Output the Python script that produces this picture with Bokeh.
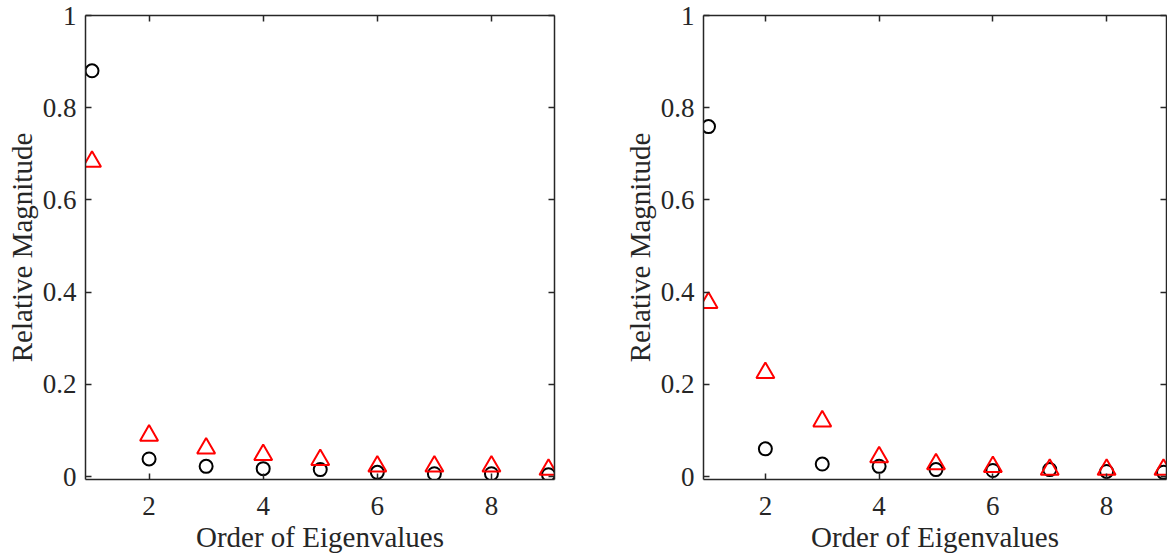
from bokeh.plotting import figure
from bokeh.layouts import row
from bokeh.models import ColumnDataSource, LinearAxis, FixedTicker, Range1d
from bokeh.embed import file_html
from bokeh.resources import INLINE

# ---- data ----
order = [1, 2, 3, 4, 5, 6, 7, 8, 9]
left_circles = [0.880, 0.038, 0.022, 0.017, 0.015, 0.009, 0.006, 0.006, 0.004]
left_triangles = [0.683, 0.089, 0.061, 0.047, 0.036, 0.022, 0.022, 0.022, 0.015]
right_circles = [0.759, 0.060, 0.027, 0.022, 0.015, 0.013, 0.015, 0.011, 0.009]
right_triangles = [0.377, 0.225, 0.120, 0.042, 0.027, 0.021, 0.015, 0.015, 0.015]
x_ticks = [2, 4, 6, 8]
y_ticks = [0, 0.2, 0.4, 0.6, 0.8, 1]
y_tick_labels = ["0", "0.2", "0.4", "0.6", "0.8", "1"]
x_label = "Order of Eigenvalues"
y_label = "Relative Magnitude"

FONT = "Liberation Serif"
AX = "#262626"
TICK_FS = "27px"
LABEL_FS = "29px"


def style_axis(ax, ticks, show_labels, overrides=None):
    ax.ticker = FixedTicker(ticks=ticks)
    ax.major_tick_in = 6
    ax.major_tick_out = 0
    ax.major_tick_line_color = AX
    ax.major_tick_line_width = 1.5
    ax.minor_tick_line_color = None
    ax.axis_line_color = AX
    ax.axis_line_width = 1.5
    ax.major_label_text_font = FONT
    if show_labels:
        ax.major_label_text_color = AX
        ax.major_label_text_font_size = TICK_FS
        if overrides:
            ax.major_label_overrides = overrides
        ax.axis_label_text_font = FONT
        ax.axis_label_text_font_size = LABEL_FS
        ax.axis_label_text_font_style = "normal"
        ax.axis_label_text_color = AX
    else:
        ax.major_label_text_color = None
        ax.major_label_text_font_size = "0px"
        ax.major_label_standoff = 0


def make_panel(circles, triangles, width, bl, br, xr):
    src = ColumnDataSource(dict(x=order, c=circles, t=triangles))
    p = figure(width=width, height=556, output_backend="svg", toolbar_location=None,
               x_range=Range1d(*xr), y_range=Range1d(-0.0065, 1.0),
               min_border_left=bl, min_border_right=br,
               min_border_top=15, min_border_bottom=77)
    p.grid.visible = False
    p.outline_line_color = None
    p.background_fill_color = "white"
    p.border_fill_color = "white"

    p.scatter("x", "c", source=src, marker="circle", size=13, fill_color=None,
              line_color="black", line_width=2)
    p.scatter("x", "t", source=src, marker="triangle", size=18, fill_color=None,
              line_color="#ff0000", line_width=2)

    style_axis(p.xaxis[0], x_ticks, True)
    p.xaxis[0].axis_label = x_label
    p.xaxis[0].axis_label_standoff = 3
    p.xaxis[0].major_label_standoff = 17
    ov = {t: lab for t, lab in zip(y_ticks, y_tick_labels)}
    style_axis(p.yaxis[0], y_ticks, True, ov)
    p.yaxis[0].axis_label = y_label
    p.yaxis[0].axis_label_standoff = 2
    p.yaxis[0].major_label_standoff = 9

    top = LinearAxis()
    style_axis(top, x_ticks, False)
    p.add_layout(top, "above")
    right = LinearAxis()
    style_axis(right, y_ticks, False)
    p.add_layout(right, "right")
    return p


p1 = make_panel(left_circles, left_triangles, 618, 85, 64, (0.886, 9.105))
p2 = make_panel(right_circles, right_triangles, 549, 85, 1, (0.912, 9.053))

layout = row(p1, p2)
open("out.html", "w").write(file_html(layout, INLINE))
